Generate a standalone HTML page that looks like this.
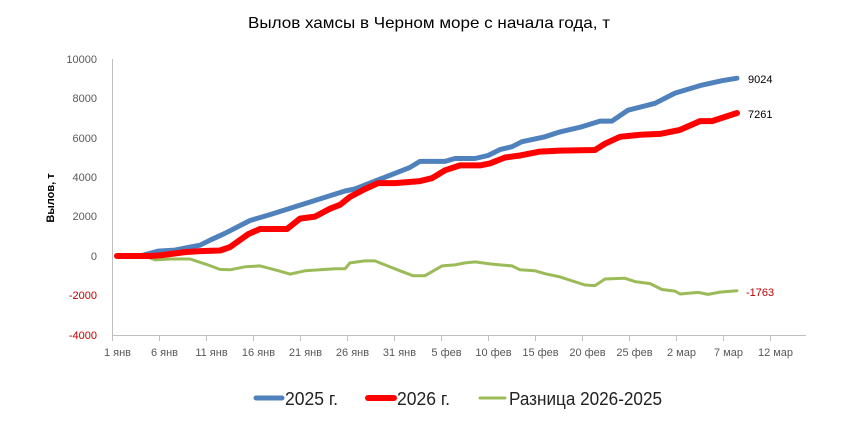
<!DOCTYPE html>
<html><head><meta charset="utf-8"><style>
body{margin:0;background:#fff;}
svg{display:block;font-family:"Liberation Sans",sans-serif;}
</style></head><body>
<svg id="s" width="856" height="422" xmlns="http://www.w3.org/2000/svg">
<rect width="856" height="422" fill="#fff"/>
<text x="248" y="28" textLength="362" lengthAdjust="spacingAndGlyphs" font-size="16" fill="#000">Вылов хамсы в Черном море с начала года, т</text>
<g font-size="11" fill="#595959" text-anchor="end">
<text x="97" y="63">10000</text><text x="97" y="102">8000</text><text x="97" y="142">6000</text>
<text x="97" y="181">4000</text><text x="97" y="220">2000</text><text x="97" y="260">0</text>
<text x="97" y="299" fill="#c00000">-2000</text><text x="97" y="339" fill="#c00000">-4000</text>
</g>
<text transform="translate(54,198) rotate(-90)" text-anchor="middle" font-size="11" font-weight="bold">Вылов, т</text>
<line x1="112.5" y1="59" x2="112.5" y2="336" stroke="#bfbfbf"/>
<line x1="112" y1="335.5" x2="806" y2="335.5" stroke="#bfbfbf"/>
<g id="ticks" stroke="#bfbfbf"></g>
<g id="xl" font-size="11" fill="#595959" text-anchor="middle"></g>
<g id="lines" fill="none" stroke-linejoin="round" stroke-linecap="round"></g>
<text x="748" y="83" font-size="11">9024</text>
<text x="748" y="118" font-size="11">7261</text>
<text x="746" y="296" font-size="11" fill="#c00000">-1763</text>
<g stroke-linecap="round">
<line x1="256" y1="398" x2="282" y2="398" stroke="#4f81bd" stroke-width="5"/>
<line x1="368" y1="398" x2="394" y2="398" stroke="#ff0000" stroke-width="6"/>
<line x1="480" y1="398" x2="505" y2="398" stroke="#9bbb59" stroke-width="3"/>
</g>
<g font-size="18" fill="#222">
<text x="285" y="405" textLength="53" lengthAdjust="spacingAndGlyphs">2025 г.</text>
<text x="397" y="405" textLength="53" lengthAdjust="spacingAndGlyphs">2026 г.</text>
<text x="509" y="405" textLength="153" lengthAdjust="spacingAndGlyphs">Разница 2026-2025</text>
</g>
</svg>
<script>
var NS="http://www.w3.org/2000/svg";
function el(t,a,p,txt){var e=document.createElementNS(NS,t);for(var k in a)e.setAttribute(k,a[k]);if(txt)e.textContent=txt;document.getElementById(p).appendChild(e);}
var labs=["1 янв","6 янв","11 янв","16 янв","21 янв","26 янв","31 янв","5 фев","10 фев","15 фев","20 фев","25 фев","2 мар","7 мар","12 мар"];
for(var i=0;i<labs.length;i++){var x=112.5+i*47;el("line",{x1:x,y1:336,x2:x,y2:341},"ticks");el("text",{x:x+5,y:356},"xl",labs[i]);}
function Y(v){return 256-v*0.0197;}
var blue=[[117,0],[140,0],[158,250],[175,300],[190,450],[200,550],[210,800],[225,1150],[250,1800],[270,2100],[295,2500],[320,2900],[345,3300],[355,3400],[375,3800],[395,4200],[410,4500],[420,4800],[445,4800],[455,4950],[475,4950],[488,5100],[500,5400],[512,5550],[522,5800],[545,6050],[560,6300],[581,6550],[600,6850],[612,6850],[628,7400],[655,7750],[675,8270],[700,8650],[722,8900],[737,9024]];
var red=[[117,0],[150,0],[160,30],[185,200],[200,250],[220,280],[230,450],[248,1100],[260,1370],[287,1370],[300,1900],[315,2000],[330,2400],[340,2600],[350,3000],[365,3400],[378,3700],[395,3700],[420,3800],[432,3950],[445,4350],[460,4600],[480,4600],[490,4700],[505,5000],[520,5100],[540,5300],[560,5350],[595,5380],[605,5700],[620,6050],[640,6150],[660,6200],[680,6400],[700,6850],[712,6850],[737,7261]];
var green=[[117,0],[145,0],[155,-200],[170,-150],[190,-150],[205,-400],[220,-680],[230,-700],[245,-550],[260,-500],[275,-700],[290,-920],[305,-750],[320,-700],[335,-650],[345,-650],[350,-350],[365,-250],[375,-250],[385,-450],[400,-750],[413,-1000],[425,-1000],[442,-500],[455,-450],[465,-350],[475,-300],[490,-400],[500,-450],[512,-500],[520,-700],[535,-750],[545,-900],[560,-1060],[585,-1470],[595,-1500],[605,-1170],[625,-1130],[635,-1300],[650,-1400],[662,-1700],[675,-1780],[680,-1930],[698,-1850],[708,-1950],[720,-1830],[737,-1763]];
function pl(d,c,w){el("polyline",{points:d.map(function(p){return p[0]+","+Y(p[1]).toFixed(1);}).join(" "),stroke:c,"stroke-width":w},"lines");}
pl(green,"#9bbb59",3);pl(blue,"#4f81bd",5);pl(red,"#ff0000",6);
</script>
</body></html>
